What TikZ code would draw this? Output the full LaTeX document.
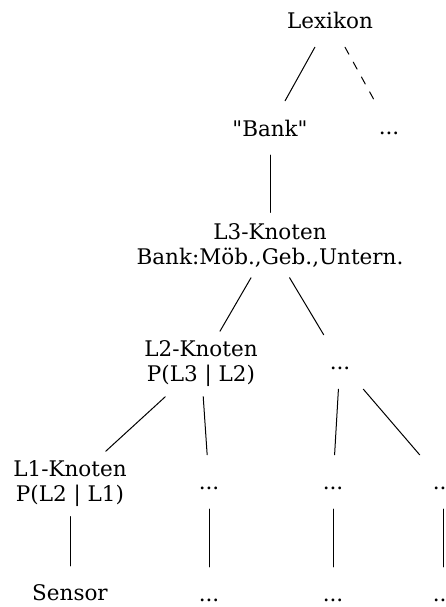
\documentclass[tikz,border=0pt]{standalone}
\usepackage{fontspec}
\newfontfamily\treefont{DejaVu Serif}
\usetikzlibrary{positioning}

\begin{document}
\begin{tikzpicture}[line cap=round,line join=round,x=1pt,y=-1pt,
  lbl/.style={inner sep=0pt,minimum height=54pt,minimum width=60pt,align=center,
    font=\treefont\fontsize{21.5}{25}\selectfont},
  lbltwo/.style={lbl,minimum height=65pt},
  etc/.style={lbl,text height=14pt,text depth=0pt},
  edge/.style={line width=1pt,color=black}]
\useasboundingbox (0,0) rectangle (446,607);
% Ebene 0 und 1
\node[lbl] (lex) at (330,20) {Lexikon};
\node[lbl] (bank) at (270,128) {"Bank"};
\node[etc] (more1) at (389,127) {...};
% Ebene L3
\node[lbltwo] (lthree) at (270,245) {L3-Knoten\\Bank:Möb.,Geb.,Untern.};
% Ebene L2
\node[lbltwo] (ltwo) at (201,364) {L2-Knoten\\P(L3 | L2)};
\node[etc] (more2) at (340,362) {...};
% Ebene L1
\node[lbltwo] (lone) at (70,484) {L1-Knoten\\P(L2 | L1)};
\foreach \n/\x in {a/209,b/333,c/443}
  \node[etc] (one\n) at (\x,482) {...};
% Sensoren
\node[lbl] (sensor) at (70,593) {Sensor};
\foreach \n/\x in {a/209,b/333,c/443}
  \node[etc] (sen\n) at (\x,594) {...};
% Kanten
\draw[edge] (lex) -- (bank);
\draw[edge,dash pattern=on 8pt off 9pt] (lex) -- (more1);
\draw[edge] (bank) -- (lthree);
\draw[edge] (lthree) -- (ltwo);
\draw[edge] (lthree) -- (more2);
\draw[edge] (ltwo) -- (lone);
\draw[edge] (ltwo) -- (onea);
\draw[edge] (more2) -- (oneb);
\draw[edge] (more2) -- (onec);
\draw[edge] (lone) -- (sensor);
\foreach \n in {a,b,c}
  \draw[edge] (one\n) -- (sen\n);
\end{tikzpicture}
\end{document}
